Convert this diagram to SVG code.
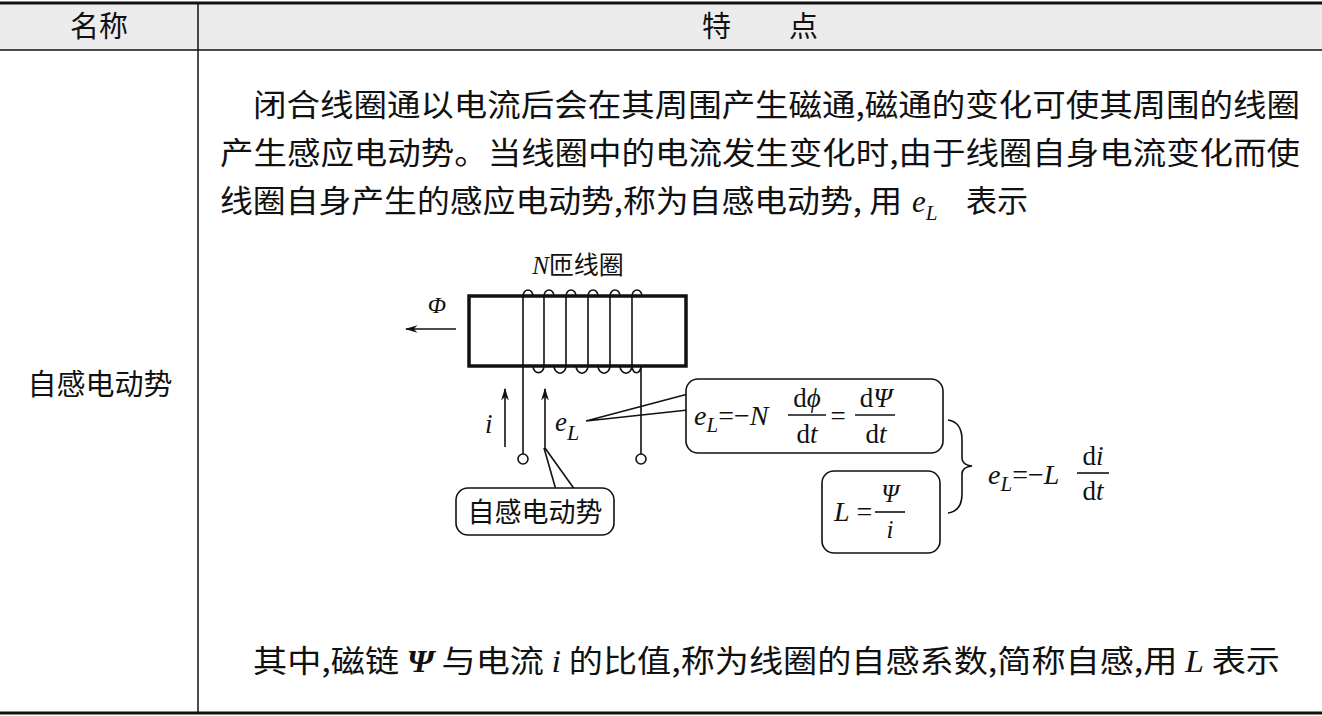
<svg xmlns="http://www.w3.org/2000/svg" width="1322" height="716" viewBox="0 0 1322 716">
<defs>
<style>
.cn{font-family:"Noto Sans CJK SC","Noto Sans",sans-serif;fill:#111}
.m{font-family:"Liberation Serif",serif;fill:#111}
.it{font-style:italic}
.ln{stroke:#111;stroke-width:1.6;fill:none}
.bx{stroke:#111;stroke-width:1.6;fill:#fff}
</style>
<marker id="ar" viewBox="0 0 10 10" refX="9" refY="5" markerWidth="8" markerHeight="8" orient="auto-start-reverse"><path d="M0,2 L10,5 L0,8 L3,5 Z" fill="#111"/></marker>
</defs>
<rect width="1322" height="716" fill="#fff"/>
<g id="table">
<rect x="0" y="3" width="1322" height="47" fill="#ececec"/>
<line x1="0" y1="3" x2="1322" y2="3" stroke="#111" stroke-width="3"/>
<line x1="0" y1="50" x2="1322" y2="50" stroke="#111" stroke-width="1.5"/>
<line x1="0" y1="713" x2="1322" y2="713" stroke="#111" stroke-width="3"/>
<line x1="198" y1="3" x2="198" y2="713" stroke="#111" stroke-width="1.5"/>
<text class="cn" x="99" y="37" font-size="29" text-anchor="middle">名称</text>
<text class="cn" x="760" y="37" font-size="29" text-anchor="middle">特　　点</text>
<text class="cn" x="100" y="395" font-size="29" text-anchor="middle">自感电动势</text>
<text class="cn" x="253" y="116" font-size="31" textLength="1047" lengthAdjust="spacingAndGlyphs">闭合线圈通以电流后会在其周围产生磁通,磁通的变化可使其周围的线圈</text>
<text class="cn" x="220" y="164" font-size="31" textLength="1080" lengthAdjust="spacingAndGlyphs">产生感应电动势。当线圈中的电流发生变化时,由于线圈自身电流变化而使</text>
<text class="cn" x="220" y="212" font-size="31" textLength="682" lengthAdjust="spacingAndGlyphs">线圈自身产生的感应电动势,称为自感电动势, 用</text>
<text class="m it" x="912" y="212" font-size="31">e<tspan font-size="21" dy="8">L</tspan></text>
<text class="cn" x="966" y="212" font-size="31">表示</text>
<text class="cn" x="253" y="672" font-size="31" textLength="1027" lengthAdjust="spacingAndGlyphs">其中,磁链 <tspan class="m it" font-weight="bold">Ψ</tspan> 与电流 <tspan class="m it">i</tspan> 的比值,称为线圈的自感系数,简称自感,用 <tspan class="m it">L</tspan> 表示</text>
</g>
<g id="coil">
<rect x="469" y="296" width="217" height="70" fill="none" stroke="#111" stroke-width="3.5"/>
<path class="ln" d="M523,296 a5,6 0 0 1 10,0 M544,296 a5,6 0 0 1 10,0 M566,296 a5,6 0 0 1 10,0 M588,296 a5,6 0 0 1 10,0 M610,296 a5,6 0 0 1 10,0 M632,296 a5,6 0 0 1 10,0"/>
<path class="ln" d="M533,366 a5,6 0 0 0 11,0 M554,366 a5,6 0 0 0 12,0 M576,366 a5,6 0 0 0 12,0 M598,366 a5,6 0 0 0 12,0 M620,366 a5,6 0 0 0 12,0 M632,366 a4,6 0 0 0 9,0"/>
<path class="ln" d="M523,296 V454 M544,296 V366 M566,296 V366 M588,296 V366 M610,296 V366 M632,296 V366 M641,366 V454"/>
<circle class="bx" cx="523" cy="459" r="5"/>
<circle class="bx" cx="641" cy="459" r="5"/>
<text class="cn" x="578" y="274" font-size="25" text-anchor="middle"><tspan class="m it">N</tspan>匝线圈</text>
<text class="m it" x="437" y="313" font-size="24" text-anchor="middle">Φ</text>
</g>
<g id="connectors">
<line class="ln" x1="456" y1="329" x2="406" y2="329" marker-end="url(#ar)"/>
<line class="ln" x1="505" y1="447" x2="505" y2="389" marker-end="url(#ar)"/>
<line class="ln" x1="545" y1="449" x2="545" y2="389" marker-end="url(#ar)"/>
<path class="ln" d="M586,421 L688,394 M586,421 L688,410"/>
<path class="ln" d="M544,448 L556,490 M545,448 L575,490"/>
<path class="ln" d="M948,420 Q962,422 962,440 L962,458 Q962,465 972,466 Q962,467 962,474 L962,494 Q962,511 948,513"/>
</g>
<g id="lbl-i"><text class="m it" x="485" y="433" font-size="27">i</text></g>
<g id="lbl-eL"><text class="m it" x="555" y="431" font-size="27">e<tspan font-size="22" dy="9">L</tspan></text></g>
<g id="callout-self">
<rect class="bx" x="456" y="488" width="158" height="47" rx="12"/>
<text class="cn" x="535" y="522" font-size="27" text-anchor="middle">自感电动势</text>
</g>
<g id="box-eq1">
<rect class="bx" x="686" y="379" width="257" height="74" rx="12"/>
<text class="m" x="694" y="425" font-size="28"><tspan class="it">e</tspan><tspan class="it" font-size="21" dy="7">L</tspan><tspan dy="-7">=−</tspan><tspan class="it">N</tspan></text>
<text class="m" x="807" y="407" font-size="27" text-anchor="middle">d<tspan class="it">ϕ</tspan></text>
<line class="ln" x1="788" y1="415" x2="826" y2="415" stroke-width="1.2"/>
<text class="m" x="807" y="443" font-size="27" text-anchor="middle">d<tspan class="it">t</tspan></text>
<text class="m" x="838" y="425" font-size="27" text-anchor="middle">=</text>
<text class="m" x="876" y="407" font-size="27" text-anchor="middle">d<tspan class="it">Ψ</tspan></text>
<line class="ln" x1="855" y1="415" x2="895" y2="415" stroke-width="1.2"/>
<text class="m" x="876" y="443" font-size="27" text-anchor="middle">d<tspan class="it">t</tspan></text>
</g>
<g id="box-eq2">
<rect class="bx" x="822" y="471" width="118" height="82" rx="12"/>
<text class="m" x="834" y="521" font-size="28"><tspan class="it">L</tspan> =</text>
<text class="m it" x="890" y="502" font-size="25" text-anchor="middle">Ψ</text>
<line class="ln" x1="875" y1="512" x2="905" y2="512" stroke-width="1.2"/>
<text class="m it" x="890" y="538" font-size="25" text-anchor="middle">i</text>
</g>
<g id="eq-result">
<text class="m" x="988" y="484" font-size="28"><tspan class="it">e</tspan><tspan class="it" font-size="21" dy="7">L</tspan><tspan dy="-7">=−</tspan><tspan class="it">L</tspan></text>
<text class="m" x="1093" y="465" font-size="27" text-anchor="middle">d<tspan class="it">i</tspan></text>
<line class="ln" x1="1077" y1="473" x2="1109" y2="473" stroke-width="1.2"/>
<text class="m" x="1093" y="500" font-size="27" text-anchor="middle">d<tspan class="it">t</tspan></text>
</g>
</svg>
